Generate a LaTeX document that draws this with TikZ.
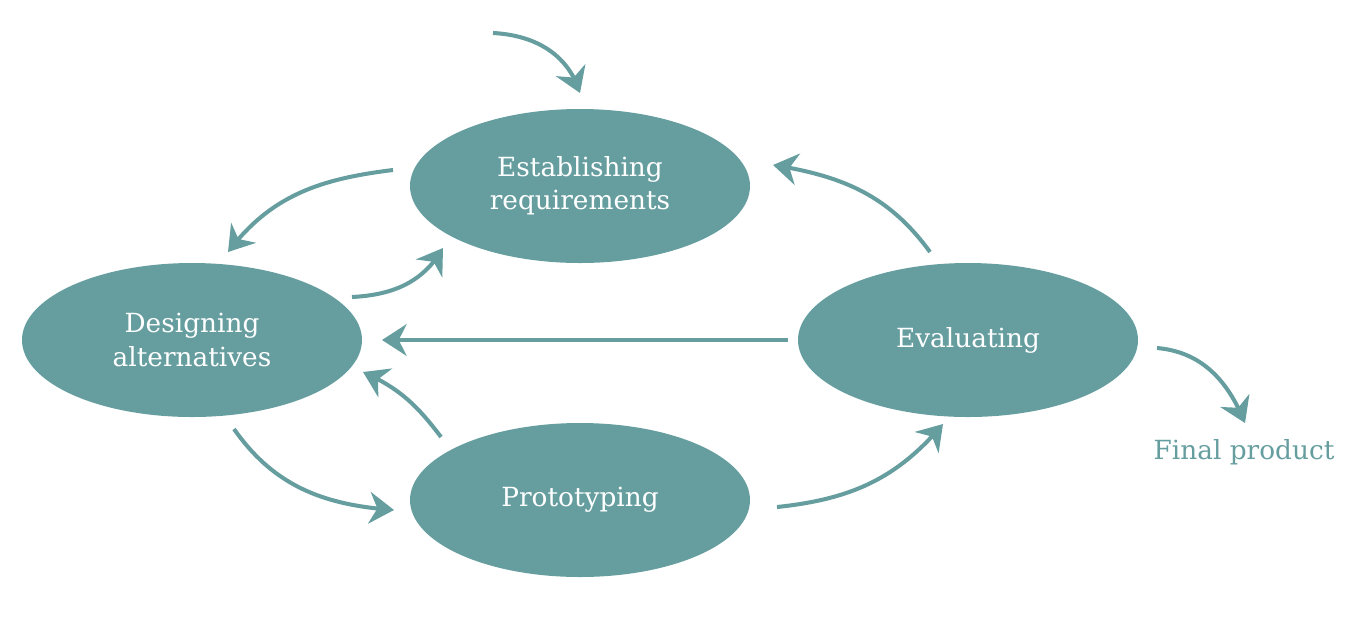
\documentclass[tikz,border=0pt]{standalone}
\usepackage{fontspec}
\setmainfont{DejaVu Serif}
\usetikzlibrary{arrows.meta,bending,shapes.geometric}
\definecolor{teal}{RGB}{102,158,160}

\begin{document}
\begin{tikzpicture}
\tikzstyle{fase} = [ellipse, fill=teal, text=white, inner sep=0pt,
  minimum width=6.8cm, minimum height=3.08cm, align=center,
  font=\fontsize{15}{19}\selectfont]
\tikzstyle{freccia} = [draw=teal, line width=2.3pt,
  -{Stealth[length=14pt, width=18pt, inset=4.5pt, flex]}]
\useasboundingbox (0,0) rectangle (27.2,-12.72);
\node[fase] (req) at (11.6,-3.72) {Establishing\\requirements};
\node[fase] (des) at (3.84,-6.8) {Designing\\alternatives};
\node[fase] (eva) at (19.36,-6.8) {Evaluating};
\node[fase] (pro) at (11.6,-10.0) {Prototyping};
\node[text=teal, font=\fontsize{15}{19}\selectfont] (fin) at (24.88,-9.04) {Final product};
\coordinate (inizio) at (9.86,-0.66);
\draw[freccia] (inizio) to[out=-3,in=107] ([shift={(0,1.86)}]req.center);
\draw[freccia] ([shift={(-3.74,0.32)}]req.center) to[out=187,in=53] ([shift={(0.72,1.76)}]des.center);
\draw[freccia] ([shift={(3.2,0.86)}]des.center) to[out=3,in=240] ([shift={(-2.74,-1.24)}]req.center);
\draw[freccia] ([shift={(-0.76,1.76)}]eva.center) to[out=126,in=-9] ([shift={(3.86,0.42)}]req.center);
\draw[freccia] ([xshift=-3.6cm]eva.center) -- ([xshift=3.8cm]des.center);
\draw[freccia] ([shift={(-2.78,1.26)}]pro.center) to[out=127,in=-24] ([shift={(3.42,-0.64)}]des.center);
\draw[freccia] ([shift={(0.84,-1.78)}]des.center) to[out=-55,in=176] ([shift={(-3.72,-0.2)}]pro.center);
\draw[freccia] ([shift={(3.94,-0.14)}]pro.center) to[out=6,in=230] ([shift={(-0.5,-1.68)}]eva.center);
\draw[freccia] ([shift={(3.78,-0.16)}]eva.center) to[out=-5,in=112] ([shift={(0.02,0.58)}]fin.center);
\end{tikzpicture}
\end{document}
